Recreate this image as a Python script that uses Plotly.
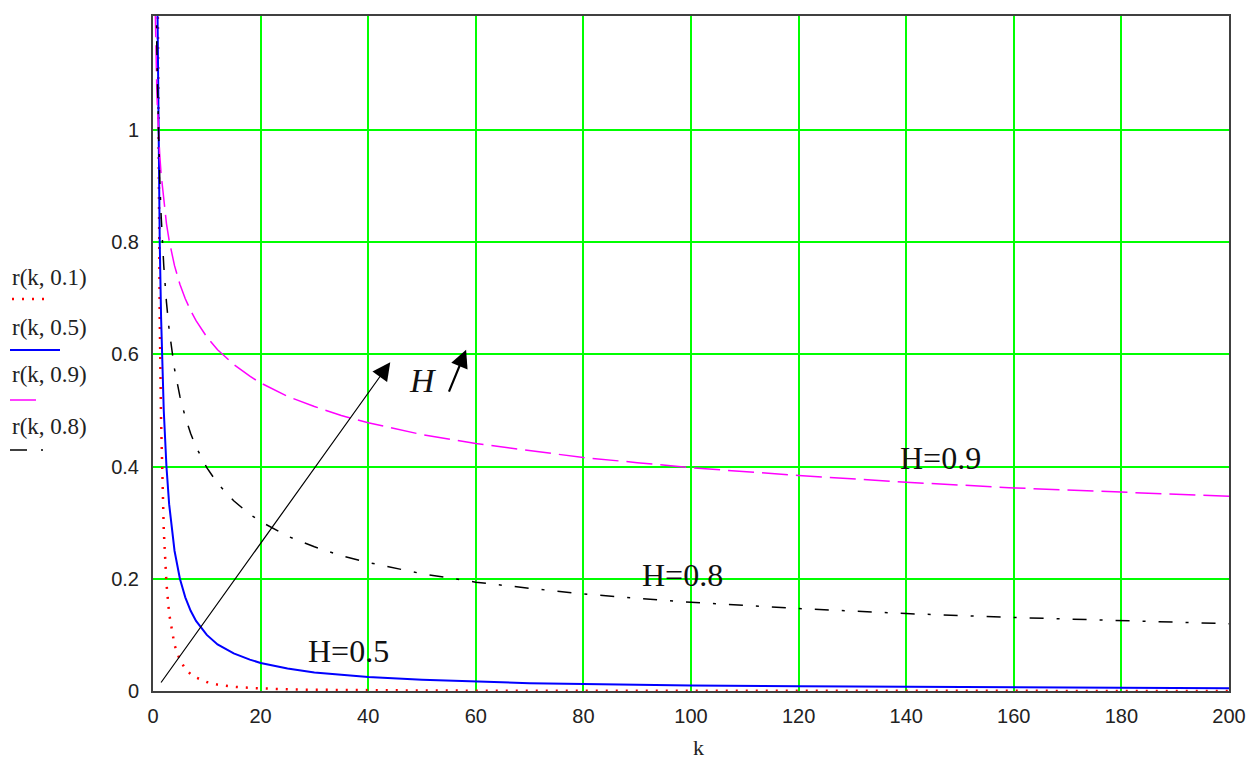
import plotly.graph_objects as go

# ---- data ----
k = [0.3, 0.4, 0.5, 0.6, 0.7, 0.8, 0.9, 1, 1.25, 1.5, 2, 2.5, 3, 4, 5, 6, 7, 8, 10, 12,
     15, 18, 20, 25, 30, 35, 40, 50, 60, 70, 80, 90, 100, 120, 140, 160, 180, 200]

r_h01 = [8.74, 5.20, 3.48, 2.51, 1.90, 1.49, 1.21, 1.0, 0.669, 0.482, 0.287, 0.192, 0.138,
         0.082, 0.055, 0.040, 0.030, 0.024, 0.016, 0.0114, 0.0076, 0.0055, 0.0046, 0.0030,
         0.0022, 0.0017, 0.0013, 0.0009, 0.0006, 0.0005, 0.0004, 0.0003, 0.0003, 0.0002,
         0.0001, 0.0001, 0.0001, 0.0001]
r_h05 = [3.33, 2.50, 2.00, 1.667, 1.429, 1.25, 1.111, 1.0, 0.80, 0.667, 0.50, 0.40, 0.333,
         0.25, 0.20, 0.167, 0.143, 0.125, 0.10, 0.083, 0.067, 0.056, 0.050, 0.040, 0.033,
         0.029, 0.025, 0.020, 0.017, 0.014, 0.0125, 0.011, 0.010, 0.0083, 0.0071, 0.0063,
         0.0056, 0.0050]
r_h09 = [1.272, 1.201, 1.149, 1.108, 1.074, 1.046, 1.021, 1.0, 0.956, 0.922, 0.871, 0.833,
         0.803, 0.758, 0.725, 0.699, 0.678, 0.660, 0.631, 0.608, 0.582, 0.561, 0.549, 0.525,
         0.507, 0.491, 0.478, 0.457, 0.441, 0.428, 0.416, 0.407, 0.398, 0.384, 0.372, 0.362,
         0.354, 0.347]
r_h08 = [1.618, 1.442, 1.320, 1.227, 1.153, 1.094, 1.043, 1.0, 0.914, 0.850, 0.758, 0.693,
         0.644, 0.574, 0.525, 0.488, 0.459, 0.435, 0.398, 0.370, 0.339, 0.315, 0.302, 0.276,
         0.257, 0.241, 0.229, 0.209, 0.194, 0.183, 0.173, 0.165, 0.158, 0.147, 0.138, 0.131,
         0.125, 0.120]

x_ticks = [0, 20, 40, 60, 80, 100, 120, 140, 160, 180, 200]
y_ticks = [0, 0.2, 0.4, 0.6, 0.8, 1.0]
y_tick_text = ["0", "0.2", "0.4", "0.6", "0.8", "1"]

legend_labels = ["r(k, 0.1)", "r(k, 0.5)", "r(k, 0.9)", "r(k, 0.8)"]
curve_labels = ["H=0.5", "H=0.8", "H=0.9"]

# ---- layout geometry ----
W, Hh = 1251, 760
L, R, T, B = 153, 1229, 16, 691


def px(xp):
    return (xp - L) / (R - L)


def py(yp):
    return (B - yp) / (B - T)


SERIF = "Liberation Serif, Times New Roman, serif"
SANS = "Liberation Sans, Arial, sans-serif"

fig = go.Figure()

styles = [
    (r_h01, "#ff0000", 2.5, "2px,8px"),
    (r_h05, "#0000ff", 2, "solid"),
    (r_h09, "#ff00ff", 1.5, "26px,8px"),
    (r_h08, "#000000", 1.5, "14px,13px,3px,13px"),
]
for (vals, col, wd, dash), name in zip(styles, legend_labels):
    fig.add_trace(go.Scatter(x=k, y=vals, mode="lines", name=name,
                             line=dict(color=col, width=wd, dash=dash),
                             showlegend=False))

fig.update_layout(
    width=W, height=Hh,
    margin=dict(l=L, r=W - R, t=T, b=Hh - B, autoexpand=False),
    paper_bgcolor="white", plot_bgcolor="white",
    xaxis=dict(range=[0, 200], tickvals=x_ticks, showgrid=True, gridcolor="#00ff00",
               gridwidth=1.5, zeroline=False, showline=True, mirror=True, automargin=False,
               linecolor="#404040", linewidth=2, ticks="outside", ticklen=6,
               tickcolor="white", tickfont=dict(family=SANS, size=20, color="#222")),
    yaxis=dict(range=[0, 1.203], tickvals=y_ticks, ticktext=y_tick_text, showgrid=True,
               gridcolor="#00ff00", gridwidth=1.5, zeroline=False, showline=True,
               mirror=True, automargin=False, linecolor="#404040", linewidth=2,
               ticks="outside", ticklen=8, tickcolor="white",
               tickfont=dict(family=SANS, size=20, color="#222")),
)

annotations = []
# axis title
annotations.append(dict(x=px(698), y=py(747), xref="paper", yref="paper", text="k",
                        showarrow=False, xanchor="center", yanchor="middle",
                        font=dict(family=SERIF, size=22, color="#222")))

# legend (text above a line sample)
legend_text_y = [277, 327, 375, 426]
legend_line_y = [299, 350, 400, 450]
legend_line_x = [(12, 50), (10, 60), (10, 43), (10, 27)]
for lab, ty in zip(legend_labels, legend_text_y):
    annotations.append(dict(x=px(10), y=py(ty), xref="paper", yref="paper", text=lab,
                            showarrow=False, xanchor="left", yanchor="middle",
                            font=dict(family=SERIF, size=23, color="#222")))
shapes = []
for (vals, col, wd, dash), ly, (x0, x1) in zip(styles, legend_line_y, legend_line_x):
    if dash == "14px,13px,3px,13px":
        shapes.append(dict(type="line", xref="paper", yref="paper", x0=px(10), x1=px(27),
                           y0=py(ly), y1=py(ly), line=dict(color=col, width=1.5)))
        shapes.append(dict(type="line", xref="paper", yref="paper", x0=px(41), x1=px(43),
                           y0=py(ly), y1=py(ly), line=dict(color=col, width=1.5)))
    else:
        shapes.append(dict(type="line", xref="paper", yref="paper", x0=px(x0), x1=px(x1),
                           y0=py(ly), y1=py(ly), line=dict(color=col, width=wd, dash=dash)))

# curve labels
label_pos = [(36.3, 0.071), (98.5, 0.207), (146.4, 0.415)]
for lab, (lx, ly) in zip(curve_labels, label_pos):
    annotations.append(dict(x=lx, y=ly, xref="x", yref="y", text=lab, showarrow=False,
                            font=dict(family=SERIF, size=32, color="#111")))

# H with arrows
annotations.append(dict(x=50.2, y=0.553, xref="x", yref="y", text="<i>H</i>",
                        showarrow=False, font=dict(family=SERIF, size=34, color="#111")))
annotations.append(dict(x=44.1, y=0.586, ax=1.3, ay=0.0125, xref="x", yref="y",
                        axref="x", ayref="y", text="", showarrow=True, arrowhead=2,
                        arrowsize=3, arrowwidth=1.2, arrowcolor="black", standoff=0))
annotations.append(dict(x=58.2, y=0.608, ax=54.9, ay=0.531, xref="x", yref="y",
                        axref="x", ayref="y", text="", showarrow=True, arrowhead=2,
                        arrowsize=1.6, arrowwidth=2.2, arrowcolor="black", standoff=0))

fig.update_layout(annotations=annotations, shapes=shapes)
fig.write_html("out.html")
